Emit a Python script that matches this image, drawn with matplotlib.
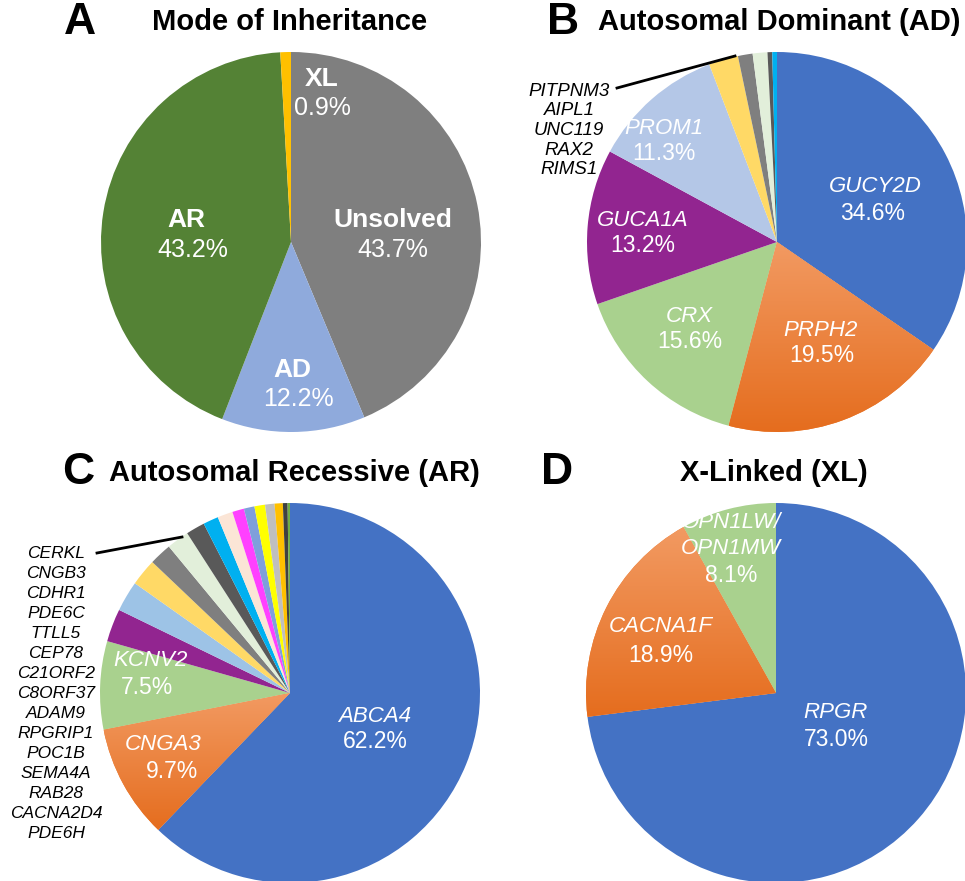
import numpy as np
import matplotlib
matplotlib.use("Agg")
import matplotlib.pyplot as plt
from matplotlib.colors import LinearSegmentedColormap
from matplotlib.lines import Line2D

plt.rcParams['font.family'] = ['Liberation Sans', 'DejaVu Sans']

# ---------------- data ----------------
A_labels = ["Unsolved", "AD", "AR", "XL"]
A_values = [43.7, 12.2, 43.2, 0.9]

B_genes = ["GUCY2D", "PRPH2", "CRX", "GUCA1A", "PROM1",
           "PITPNM3", "AIPL1", "UNC119", "RAX2", "RIMS1"]
B_values = [34.6, 19.5, 15.6, 13.2, 11.3, 2.5, 1.25, 1.25, 0.4, 0.4]

C_genes = ["ABCA4", "CNGA3", "KCNV2", "CERKL", "CNGB3", "CDHR1", "PDE6C",
           "TTLL5", "CEP78", "C21ORF2", "C8ORF37", "ADAM9", "RPGRIP1",
           "POC1B", "SEMA4A", "RAB28", "CACNA2D4", "PDE6H"]
C_values = [62.2, 9.7, 7.5, 2.8, 2.6, 2.3, 1.9, 1.9, 1.6, 1.3, 1.3,
            1.0, 0.9, 0.9, 0.8, 0.7, 0.4, 0.2]

D_genes = ["RPGR", "CACNA1F", "OPN1LW/\nOPN1MW"]
D_values = [73.0, 18.9, 8.1]

# ---------------- style ----------------
A_colors = ["#7F7F7F", "#8FAADC", "#548235", "#FFC000"]
B_colors = ["#4472C4", "ORANGE", "#A9D18E", "#922590", "#B4C7E7",
            "#FFD966", "#7F7F7F", "#E2EFDA", "#595959", "#00B0F0"]
C_colors = ["#4472C4", "ORANGE", "#A9D18E", "#922590", "#9DC3E6",
            "#FFD966", "#7F7F7F", "#E2EFDA", "#595959", "#00B0F0",
            "#FBE5D6", "#FF40FF", "#7F9FDB", "#FFFF00", "#BFBFBF",
            "#FFC000", "#404040", "#70AD47"]
D_colors = ["#4472C4", "ORANGE", "#A9D18E"]

W, H = 965, 881
fig = plt.figure(figsize=(W / 100, H / 100), dpi=100)
orange_cmap = LinearSegmentedColormap.from_list("og", ["#E56D1E", "#F29A62"])

GENE_FS = 16
PCT_FS = 16.5


def fx(x):
    return x / W


def fy(y):
    return 1 - y / H


def make_pie(cx, cy, r, values, colors):
    ax = fig.add_axes([(cx - r) / W, 1 - (cy + r) / H, 2 * r / W, 2 * r / H])
    cols = ["#ED7D31" if c == "ORANGE" else c for c in colors]
    wedges, _ = ax.pie(values, colors=cols, startangle=90, counterclock=False,
                       radius=1, wedgeprops=dict(linewidth=0, antialiased=True))
    for w, c in zip(wedges, colors):
        if c == "ORANGE":
            ext = w.get_path().get_extents()
            grad = np.linspace(0, 1, 256).reshape(-1, 1)
            im = ax.imshow(grad, cmap=orange_cmap, origin="lower",
                           extent=[ext.x0, ext.x1, ext.y0, ext.y1],
                           aspect="auto", zorder=w.get_zorder() + 0.1)
            im.set_clip_path(w)
    ax.set_xlim(-1, 1)
    ax.set_ylim(-1, 1)
    ax.set_aspect("equal")
    ax.axis("off")
    return ax


def txt(x, y, s, size, weight="normal", style="normal", color="white", ha="center"):
    fig.text(fx(x), fy(y), s, fontsize=size, fontweight=weight, fontstyle=style,
             color=color, ha=ha, va="center", linespacing=1.05)


def pct(v):
    return f"{v:.1f}%"


# ---------------- pies ----------------
make_pie(291, 242, 190, A_values, A_colors)
make_pie(777, 242, 190, B_values, B_colors)
make_pie(290, 693, 190, C_values, C_colors)
make_pie(776, 693, 190, D_values, D_colors)

# ---------------- titles ----------------
for letter, x, y in [("A", 80, 23), ("B", 563, 23), ("C", 78, 473), ("D", 557, 473)]:
    txt(x, y, letter, 32, weight="bold", color="black")
txt(290, 22, "Mode of Inheritance", 21, weight="bold", color="black")
txt(779, 22, "Autosomal Dominant (AD)", 21, weight="bold", color="black")
txt(294, 473, "Autosomal Recessive (AR)", 21, weight="bold", color="black")
txt(774, 473, "X-Linked (XL)", 21, weight="bold", color="black")

# ---------------- panel A labels ----------------
A_pos = {"Unsolved": (393, 220, 393, 250), "AD": (292, 370, 298, 399),
         "AR": (186, 220, 193, 250), "XL": (322, 79, 322, 108)}
for lab, v in zip(A_labels, A_values):
    x1, y1, x2, y2 = A_pos[lab]
    txt(x1, y1, lab, 19, weight="bold")
    txt(x2, y2, pct(v), 18)

# ---------------- panel B labels ----------------
B_pos = [(875, 187, 873, 213), (820, 330, 822, 355), (689, 316, 690, 341),
         (643, 220, 643, 246), (664, 128, 664, 154)]
for (x1, y1, x2, y2), g, v in zip(B_pos, B_genes[:5], B_values[:5]):
    txt(x1, y1, g, GENE_FS, style="italic")
    txt(x2, y2, pct(v), PCT_FS)
for i, g in enumerate(B_genes[5:]):
    txt(569, 91 + i * 19.7, g, 13.5, style="italic", color="black")
fig.add_artist(Line2D([fx(617), fx(735)], [fy(88), fy(56)], color="black", lw=2))

# ---------------- panel C labels ----------------
C_pos = [(375, 716, 375, 742), (163, 745, 172, 771), (150, 660, 147, 687)]
for (x1, y1, x2, y2), g, v in zip(C_pos, C_genes[:3], C_values[:3]):
    txt(x1, y1, g, GENE_FS, style="italic")
    txt(x2, y2, pct(v), PCT_FS)
for i, g in enumerate(C_genes[3:]):
    txt(56, 553 + i * 20, g, 12.5, style="italic", color="black")
fig.add_artist(Line2D([fx(97), fx(182)], [fy(553), fy(537)], color="black", lw=2))

# ---------------- panel D labels ----------------
txt(836, 713, D_genes[0], GENE_FS, style="italic")
txt(836, 739, pct(D_values[0]), PCT_FS)
txt(661, 627, D_genes[1], GENE_FS, style="italic")
txt(661, 655, pct(D_values[1]), PCT_FS)
d_lines = D_genes[2].split("\n")
txt(731, 523, d_lines[0], GENE_FS, style="italic")
txt(731, 549, d_lines[1], GENE_FS, style="italic")
txt(731, 575, pct(D_values[2]), PCT_FS)

fig.savefig("out.png", dpi=100)
